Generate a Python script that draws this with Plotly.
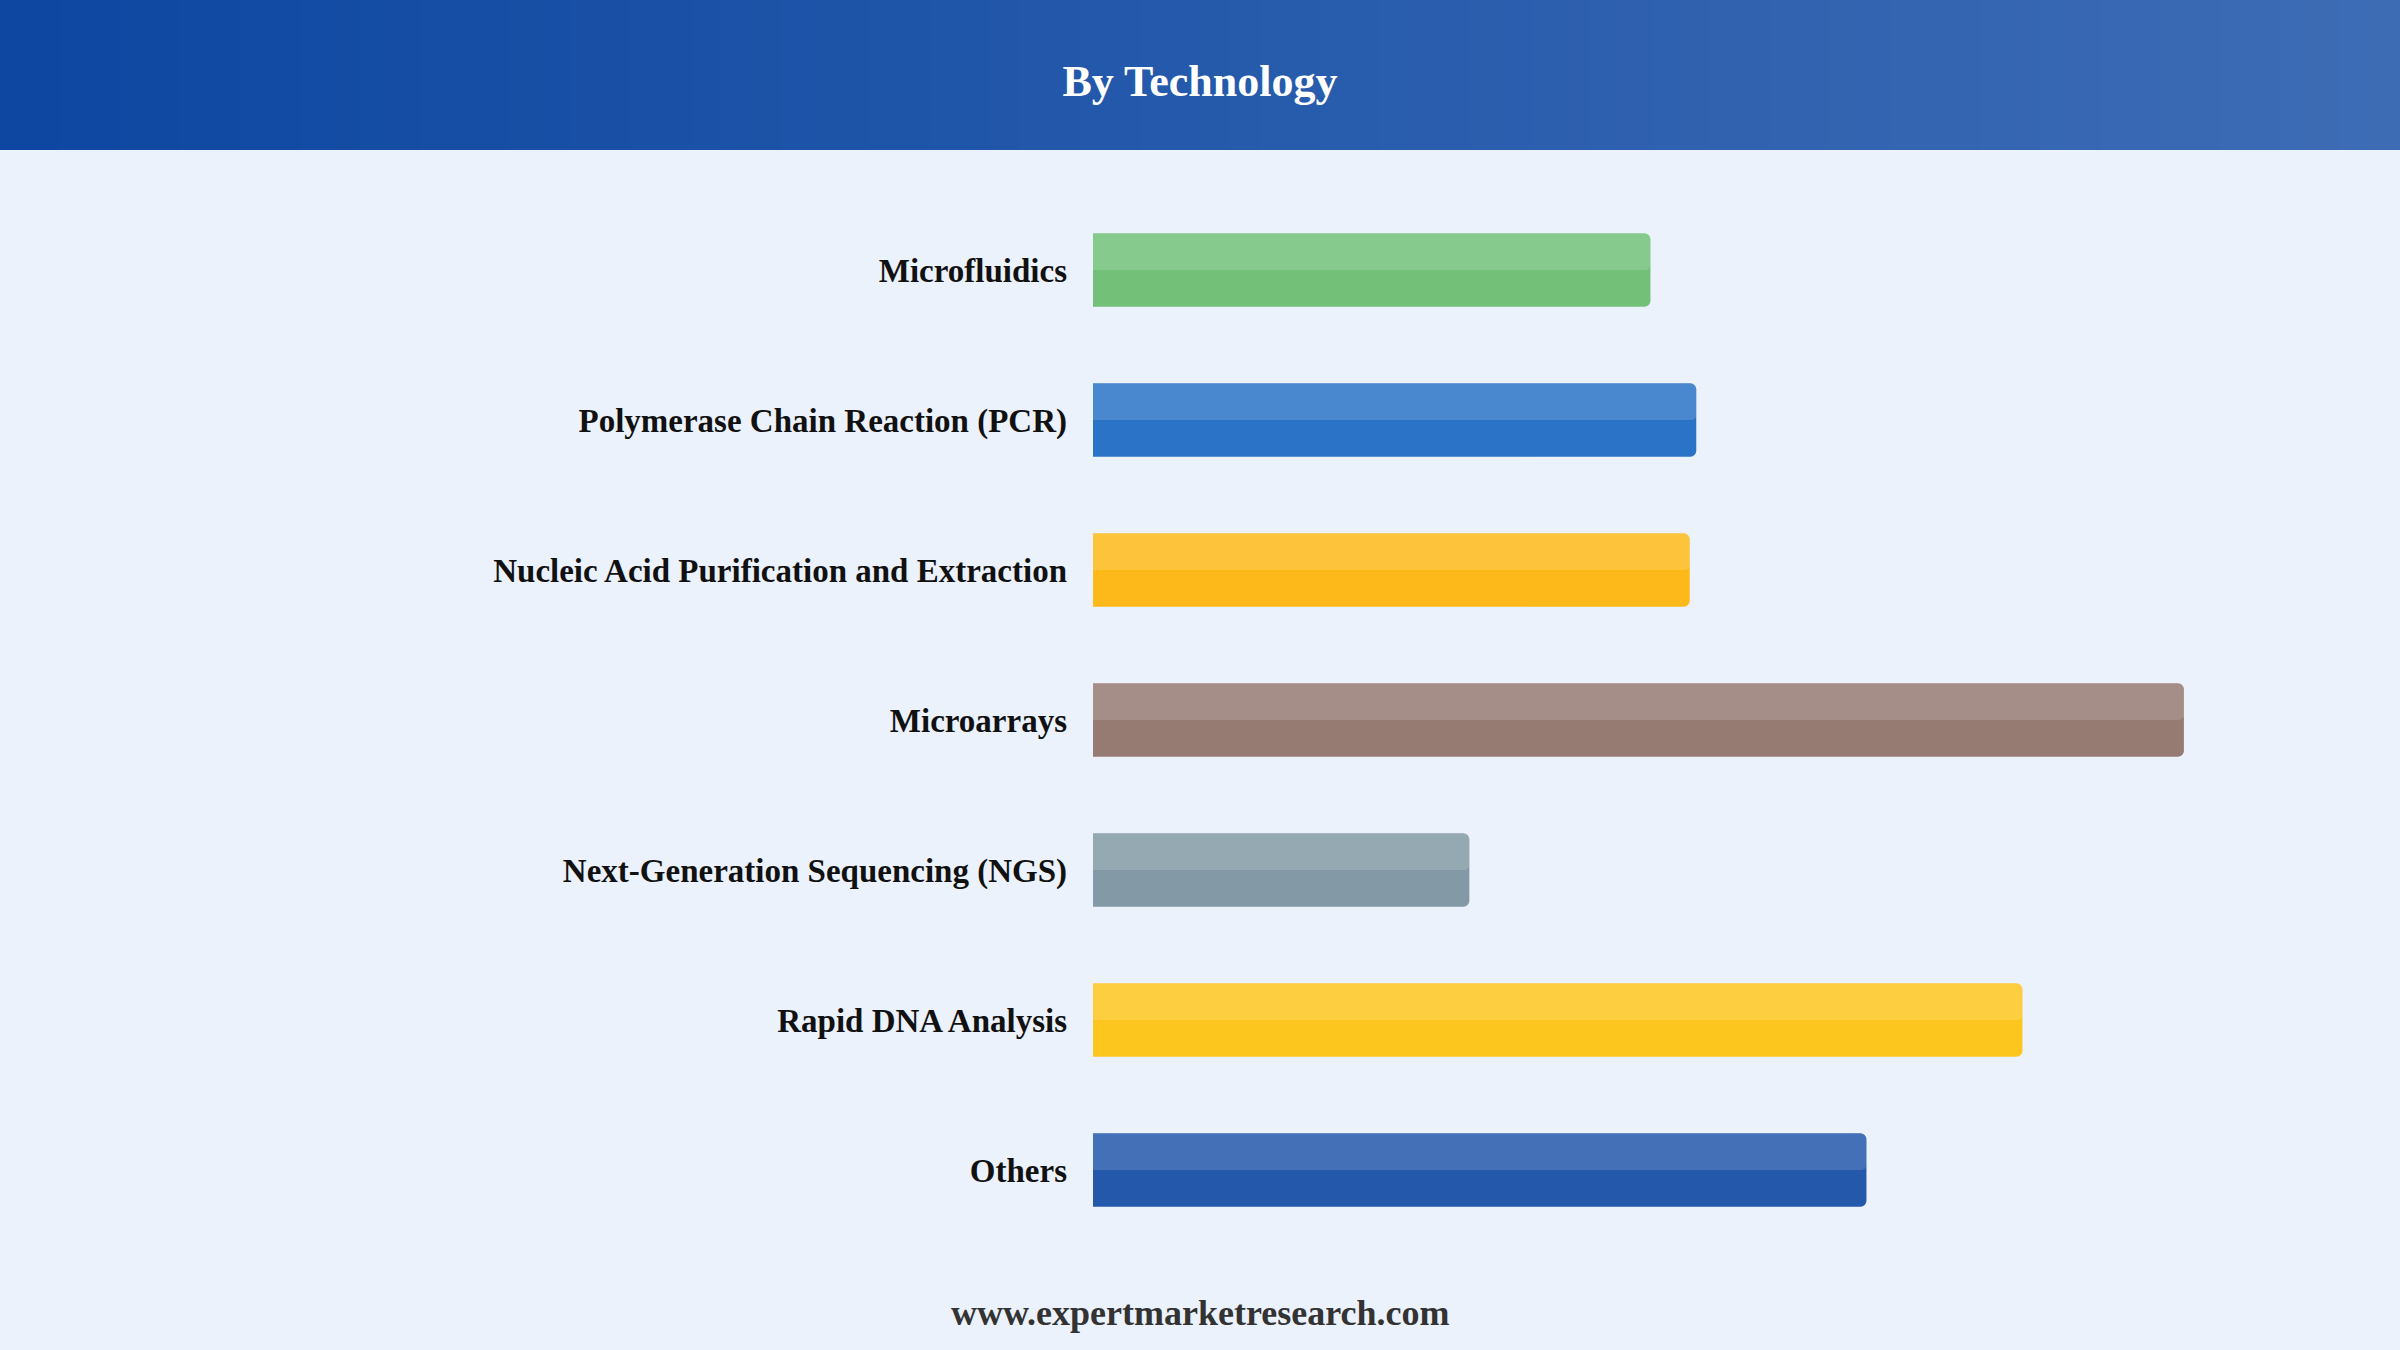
import plotly.graph_objects as go

categories = [
    "Microfluidics",
    "Polymerase Chain Reaction (PCR)",
    "Nucleic Acid Purification and Extraction",
    "Microarrays",
    "Next-Generation Sequencing (NGS)",
    "Rapid DNA Analysis",
    "Others",
]
values = [51.1, 55.3, 54.7, 100.0, 34.5, 85.2, 70.9]
base_colors = ["#66bb6a", "#1565c0", "#ffb300", "#8d6e63", "#78909c", "#ffc107", "#0d47a1"]

W, H = 2400, 1350
L, R, T, B = 1093, 107, 195, 105
PW, PH = W - L - R, H - T - B


def rgba(hexc, a):
    h = hexc.lstrip("#")
    return f"rgba({int(h[0:2],16)},{int(h[2:4],16)},{int(h[4:6],16)},{a})"


def px_to_paper_x(px):
    return (px - L) / PW


def py_to_paper_y(py):
    return (H - B - py) / PH


bar_w = 0.49

fig = go.Figure()
fig.add_trace(go.Bar(
    x=values, y=categories, orientation="h",
    width=bar_w,
    marker=dict(color=[rgba(c, 0.9) for c in base_colors], cornerradius=6,
                line=dict(width=0)),
    hoverinfo="skip", showlegend=False,
))
fig.add_trace(go.Bar(
    x=values, y=categories, orientation="h",
    width=bar_w / 2, offset=-bar_w / 2,
    marker=dict(color="rgba(255,255,255,0.15)", cornerradius=5, line=dict(width=0)),
    hoverinfo="skip", showlegend=False,
))

# header gradient band (decoration)
shapes = []
n = 80
c0 = (13, 71, 161)
c1 = (61, 108, 181)
y0 = py_to_paper_y(150)
y1 = py_to_paper_y(-2)
for i in range(n):
    t = i / (n - 1)
    col = tuple(round(c0[k] + (c1[k] - c0[k]) * t) for k in range(3))
    x0 = px_to_paper_x(W * i / n - (2 if i == 0 else 0))
    x1 = px_to_paper_x(W * (i + 1) / n + 1)
    shapes.append(dict(type="rect", xref="paper", yref="paper",
                       x0=x0, x1=x1, y0=y0, y1=y1,
                       fillcolor=f"rgb{col}", line=dict(width=0), layer="below"))

serif = "Times New Roman, Liberation Serif, serif"

fig.update_layout(
    width=W, height=H,
    margin=dict(l=L, r=R, t=T, b=B),
    paper_bgcolor="#ebf2fc",
    plot_bgcolor="#ebf2fc",
    barmode="overlay",
    shapes=shapes,
    title=dict(text="<b>By Technology</b>", x=0.5, xref="container", xanchor="center",
               y=1 - 81 / H, yref="container", yanchor="middle",
               font=dict(family=serif, size=44, color="white")),
    xaxis=dict(range=[0, 110], visible=False, showgrid=False, zeroline=False, fixedrange=True),
    yaxis=dict(autorange="reversed", showgrid=False, zeroline=False, showline=False,
               ticks="", ticklabelstandoff=25,
               tickfont=dict(family=serif, size=33, color="#111111", weight="bold")),
    annotations=[dict(
        text="<b>www.expertmarketresearch.com</b>", xref="paper", yref="paper",
        x=px_to_paper_x(1200), y=py_to_paper_y(1313), xanchor="center", yanchor="middle",
        showarrow=False, font=dict(family=serif, size=36, color="#333333"),
    )],
)

fig.write_html(
    "out.html",
    config={"displayModeBar": False},
    post_script="document.body.style.margin='0';document.body.style.padding='0';"
                "document.body.style.overflow='hidden';"
                "document.body.style.background='#ebf2fc';",
)
